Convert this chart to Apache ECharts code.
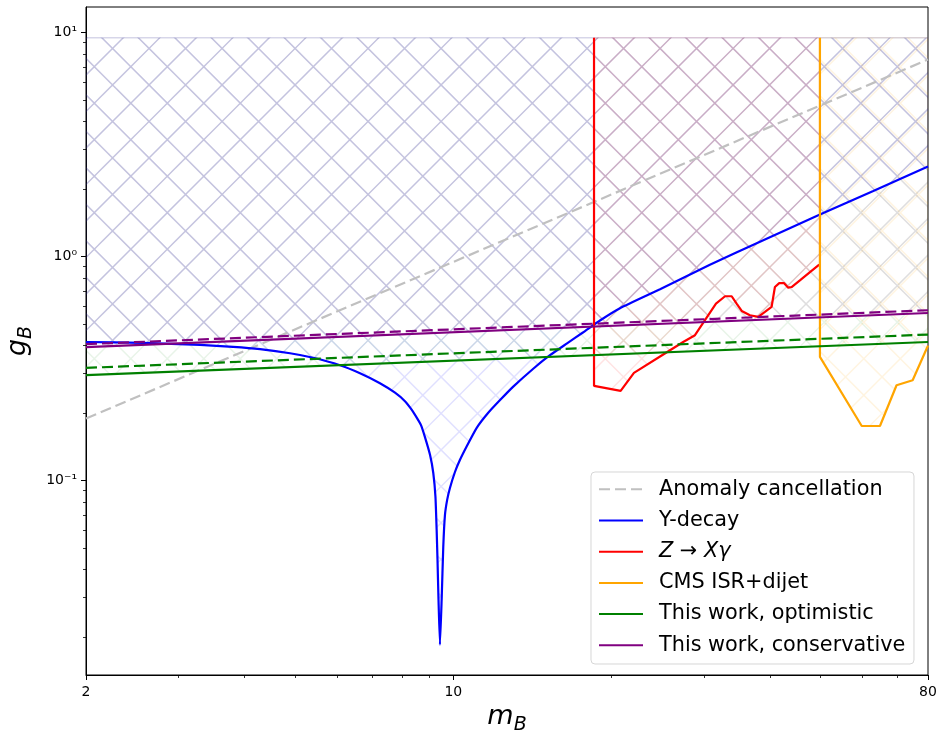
<!DOCTYPE html>
<html><head><meta charset="utf-8">
<script src="https://cdn.jsdelivr.net/npm/echarts@6/dist/echarts.min.js"></script>
<style>html,body{margin:0;padding:0;background:#fff}#c{width:936px;height:731px}</style>
</head><body><div id="c"></div>
<script>
// ---------- data ----------
const xTickValues = [2, 10, 80];
const xMinorTicks = [3, 4, 5, 6, 7, 8, 9, 20, 30, 40, 50, 60, 70];
const yTickValues = [0.1, 1, 10];
const yTickText = ['10\u207B\u00B9', '10\u2070', '10\u00B9'];
const yMinorTicks = [0.02,0.03,0.04,0.05,0.06,0.07,0.08,0.09,0.2,0.3,0.4,0.5,0.6,0.7,0.8,0.9,2,3,4,5,6,7,8,9];
const xRange = [2, 80];
const yRange = [0.01355, 12.97];
const gTop = 9.45;

const anomaly = [[2, 0.189], [80, 7.56]];
const yDecay = [[2.0,0.415],[2.567,0.411],[3.296,0.4026],[3.81,0.3945],[4.288,0.3853],[4.889,0.3697],[5.41,0.353],[6.086,0.3269],[6.643,0.3011],[7.25,0.2718],[7.744,0.2466],[8.09,0.2259],[8.342,0.2061],[8.528,0.1898],[8.678,0.1767],[8.83,0.1562],[9.03,0.1299],[9.158,0.108],[9.245,0.0847],[9.294,0.0602],[9.329,0.0442],[9.37,0.02935],[9.43,0.0185],[9.50,0.02935],[9.568,0.0507],[9.639,0.0702],[9.732,0.0819],[9.851,0.0926],[10.07,0.1091],[10.29,0.1234],[10.61,0.1425],[11.07,0.1713],[11.64,0.1999],[12.27,0.2284],[13.0,0.2623],[14.19,0.3153],[15.27,0.3622],[16.43,0.408],[17.67,0.4586],[19.01,0.5175],[20.75,0.587],[24.73,0.713],[30.77,0.917],[38.6,1.172],[49.83,1.539],[62.95,1.958],[80,2.517]];
const zXgamma = [[18.52,9.45],[18.52,0.2645],[20.81,0.251],[22.06,0.302],[25.08,0.365],[27.37,0.415],[28.82,0.445],[30.11,0.519],[31.60,0.616],[32.88,0.664],[33.85,0.664],[34.59,0.616],[35.37,0.571],[36.67,0.546],[38.03,0.537],[39.16,0.565],[40.32,0.595],[40.61,0.659],[40.91,0.730],[41.69,0.760],[42.56,0.760],[43.37,0.725],[44.01,0.730],[45.64,0.782],[47.70,0.851],[49.67,0.918]];
const cmsIsr = [[49.83,9.45],[49.83,0.356],[59.84,0.175],[64.82,0.175],[69.7,0.266],[74.8,0.280],[79.55,0.388],[80,0.40]];
const optSolid = [[2,0.295],[80,0.415]];
const optDashed = [[2,0.318],[80,0.448]];
const consSolid = [[2,0.394],[80,0.559]];
const consDashed = [[2,0.406],[80,0.575]];

const names = ['Anomaly cancellation','Y-decay','Z \u2192 X\u03B3','CMS ISR+dijet','This work, optimistic','This work, conservative'];

// ---------- hatch helper ----------
function makeHatch(color, shift) {
  const T = 73, P = 36.5;
  const c = document.createElement('canvas'); c.width = T; c.height = T;
  const ctx = c.getContext('2d');
  ctx.strokeStyle = color; ctx.lineWidth = 1.5;
  ctx.beginPath();
  for (let k = -5; k <= 7; k++) {
    const a = 27.6 + shift + k * P;
    ctx.moveTo(a - 30, -30); ctx.lineTo(a + T + 30, T + 30);
    const b = 15 + shift + k * P;
    ctx.moveTo(b + 30, -30); ctx.lineTo(b - T - 30, T + 30);
  }
  ctx.stroke();
  return c;
}
function region(curve) {
  const last = curve[curve.length - 1][0], first = curve[0][0];
  return curve.concat([[last, gTop], [first, gTop]]);
}
function hatchSeries(id, pts, color, shift) {
  const img = makeHatch(color, shift || 0);
  return {
    type: 'custom', id: id, name: id, silent: true, z: 1,
    coordinateSystem: 'cartesian2d', clip: true,
    data: [pts[0]],
    renderItem: function (params, api) {
      return {
        type: 'polygon',
        shape: { points: pts.map(p => api.coord(p)) },
        style: { fill: { image: img, repeat: 'repeat' }, stroke: color, lineWidth: 1 }
      };
    }
  };
}
function lineSeries(name, data, color, dashed, smooth) {
  return {
    type: 'line', name: name, data: data, symbol: 'none', showSymbol: false, z: 3,
    smooth: smooth || false,
    lineStyle: { color: color, width: 2.2, type: dashed ? [11, 5] : 'solid' },
    itemStyle: { color: color }, silent: true
  };
}

const font = 'DejaVu Sans';
const chart = echarts.init(document.getElementById('c'), null, { renderer: 'canvas' });
const axisCommonX = { type: 'log', logBase: 10, min: xRange[0], max: xRange[1], splitLine: { show: false }, gridIndex: 0 };
const axisCommonY = { type: 'log', logBase: 10, min: yRange[0], max: yRange[1], splitLine: { show: false }, gridIndex: 0 };
const nameRich = {
  i: { fontFamily: font, fontStyle: 'italic', fontSize: 27, lineHeight: 35, color: '#000' },
  s: { fontFamily: font, fontStyle: 'italic', fontSize: 19, lineHeight: 20, verticalAlign: 'bottom', color: '#000' }
};

chart.setOption({
  animation: false,
  backgroundColor: '#fff',
  grid: { left: 86, right: 8, top: 7, bottom: 56, show: true, borderColor: '#000', borderWidth: 1, backgroundColor: 'transparent', containLabel: false, outerBoundsMode: 'none' },
  xAxis: [
    Object.assign({}, axisCommonX, {
      position: 'bottom',
      axisLine: { show: true, lineStyle: { color: '#000', width: 1 } },
      axisTick: { show: true, length: 5, lineStyle: { color: '#000', width: 1 }, customValues: xTickValues },
      axisLabel: { show: true, customValues: xTickValues, fontFamily: font, fontSize: 14, color: '#000', margin: 10, formatter: v => String(Math.round(v)) },
      name: '{i|m}{s|B}', nameLocation: 'middle', nameGap: 19,
      nameTextStyle: { rich: nameRich }
    }),
    Object.assign({}, axisCommonX, {
      position: 'bottom',
      axisLine: { show: false },
      axisTick: { show: true, length: 3, lineStyle: { color: '#000', width: 0.8 }, customValues: xMinorTicks },
      axisLabel: { show: false }
    })
  ],
  yAxis: [
    Object.assign({}, axisCommonY, {
      position: 'left',
      axisLine: { show: true, lineStyle: { color: '#000', width: 1 } },
      axisTick: { show: true, length: 5, lineStyle: { color: '#000', width: 1 }, customValues: yTickValues },
      axisLabel: { show: true, customValues: yTickValues, fontFamily: font, fontSize: 14, color: '#000', margin: 9,
        formatter: v => yTickText[Math.round(Math.log10(v)) + 1] },
      name: '{i|g}{s|B}', nameLocation: 'middle', nameGap: 41, nameRotate: 90,
      nameTextStyle: { rich: nameRich }
    }),
    Object.assign({}, axisCommonY, {
      position: 'left',
      axisLine: { show: false },
      axisTick: { show: true, length: 3, lineStyle: { color: '#000', width: 0.8 }, customValues: yMinorTicks },
      axisLabel: { show: false }
    })
  ],
  legend: {
    data: names, orient: 'vertical', left: 591, top: 472,
    padding: [6.8, 8.7, 8.2, 7], itemGap: 10.2, itemWidth: 44, itemHeight: 14,
    backgroundColor: 'rgba(255,255,255,0.8)', borderColor: 'rgba(204,204,204,0.8)', borderWidth: 1, borderRadius: 4,
    selectedMode: false,
    itemStyle: { opacity: 0 },
    textStyle: { fontFamily: font, fontSize: 20.8, color: '#000', lineHeight: 21, padding: [0, 0, 0, 11],
      rich: { i: { fontFamily: font, fontStyle: 'italic', fontSize: 20.8, color: '#000', lineHeight: 21 } } },
    formatter: function (n) { return n === names[2] ? '{i|Z} \u2192 {i|X\u03B3}' : n; }
  },
  series: [
    hatchSeries('hatch-ydecay', region(yDecay), 'rgba(0,0,255,0.12)'),
    hatchSeries('hatch-opt', region(optSolid), 'rgba(0,128,0,0.09)'),
    hatchSeries('hatch-cons', region(consSolid), 'rgba(128,0,128,0.09)'),
    hatchSeries('hatch-z', region(zXgamma.slice(1)), 'rgba(255,0,0,0.11)'),
    hatchSeries('hatch-cms', region(cmsIsr.slice(1)), 'rgba(255,165,0,0.12)', 3),
    lineSeries(names[0], anomaly, '#c0c0c0', true),
    lineSeries(names[1], yDecay, '#0000ff', false, 0.15),
    lineSeries(names[2], zXgamma, '#ff0000', false),
    lineSeries(names[3], cmsIsr, '#ffa500', false),
    lineSeries(names[4], optSolid, '#008000', false),
    lineSeries('optimistic-dashed', optDashed, '#008000', true),
    lineSeries(names[5], consSolid, '#800080', false),
    lineSeries('conservative-dashed', consDashed, '#800080', true)
  ]
});
</script></body></html>
